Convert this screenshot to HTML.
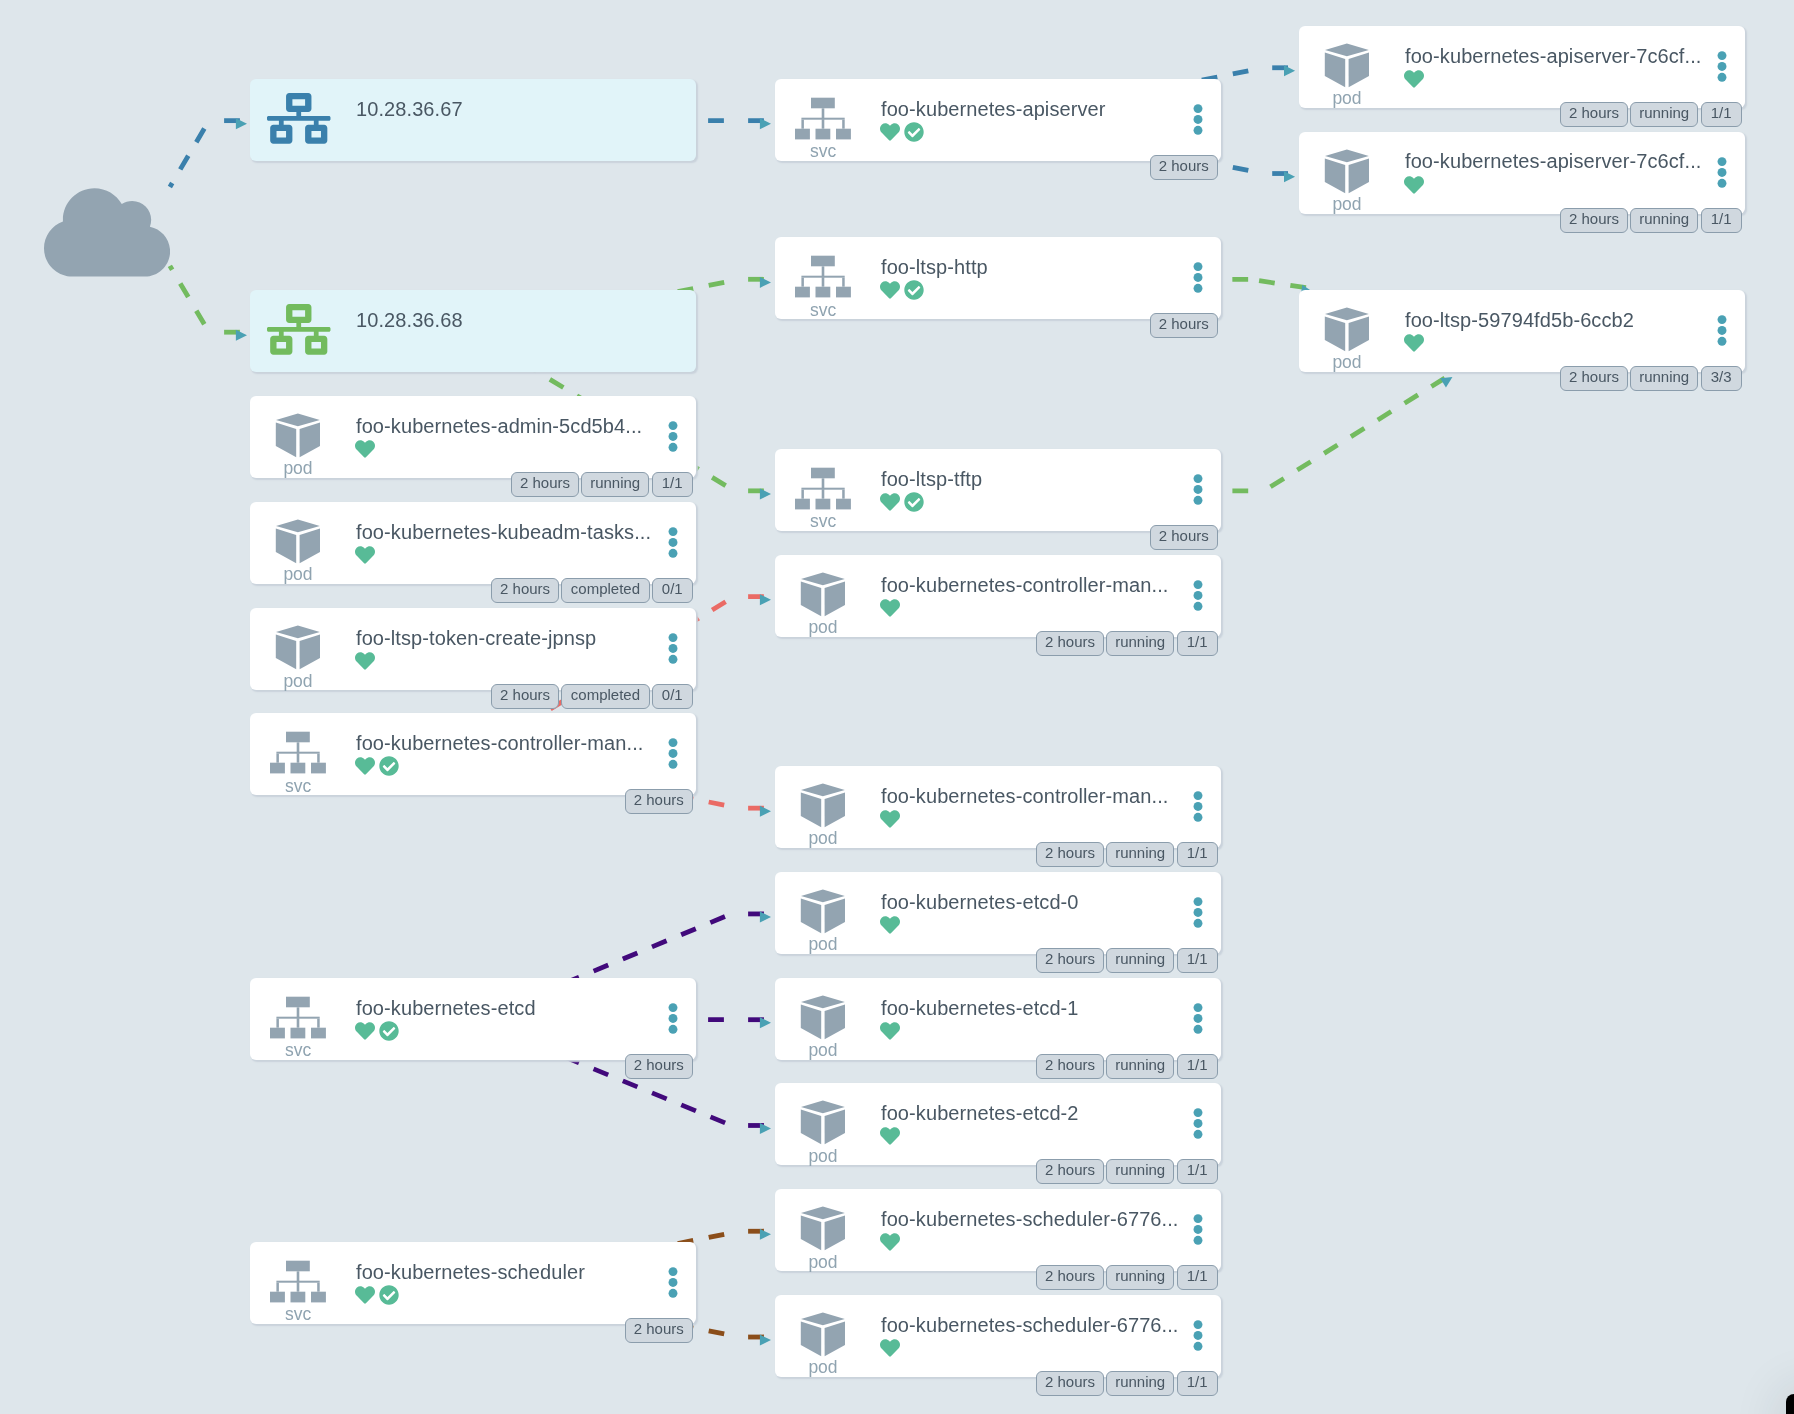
<!DOCTYPE html>
<html><head><meta charset="utf-8"><title>Argo CD network view</title><style>
*{margin:0;padding:0;box-sizing:border-box}
html,body{width:1794px;height:1414px;overflow:hidden}
body{background:#dee6eb;position:relative;-webkit-font-smoothing:antialiased;font-family:"Liberation Sans",sans-serif;color:#495763}
#edges{position:absolute;left:0;top:0}
#edges line{stroke-width:4.8;stroke-dasharray:15.8 15.8;fill:none}
.card{position:absolute;will-change:transform;width:445.6px;height:82px;background:#fff;border-radius:6px;box-shadow:1.4px 1.5px 1.5px #c9d2db}
.card.lb{background:#e1f4f9}
.card .ic{position:absolute;left:0;top:0}
.kind{position:absolute;left:0;width:96px;text-align:center;top:62.6px;font-size:17.5px;line-height:20px;color:#8fa3b0}
.name{position:absolute;left:106px;top:18.5px;font-size:20px;line-height:24px;letter-spacing:0.09px;white-space:nowrap;color:#495763}
.heart{position:absolute;left:105.1px;top:43.0px}
.check{position:absolute;left:128.5px;top:43.3px}
.dots{position:absolute;left:416.6px;top:25.4px;fill:#4aa1b4}
.badges{position:absolute;right:3.0px;top:75.5px;height:25px;display:flex;gap:2.3px}
.badges span{display:block;height:25px;border:1px solid #8b9dac;background:#d0d8df;border-radius:6px;font-size:15px;line-height:20.6px;text-align:center;color:#495763;white-space:nowrap}
#cloud{position:absolute;left:43.8px;top:181.6px}
#corner{position:absolute;left:1786px;top:1394px;width:60px;height:60px;background:#000;border-radius:8px;box-shadow:0 0 50px 4px rgba(30,40,50,0.12)}
</style></head><body>
<svg id="edges" width="1794" height="1414"><line x1="209.00" y1="120.64" x2="169.88" y2="186.94" stroke="#3a80ac" stroke-dashoffset="22.40"/><line x1="255.70" y1="120.64" x2="209.00" y2="120.64" stroke="#3a80ac" stroke-dashoffset="15.80"/><line x1="209.00" y1="332.19" x2="169.88" y2="265.89" stroke="#73bb5f" stroke-dashoffset="22.40"/><line x1="255.70" y1="332.19" x2="209.00" y2="332.19" stroke="#73bb5f" stroke-dashoffset="15.80"/><line x1="739.70" y1="120.64" x2="473.10" y2="120.64" stroke="#3a80ac" stroke-dashoffset="15.80"/><line x1="779.70" y1="120.64" x2="739.70" y2="120.64" stroke="#3a80ac" stroke-dashoffset="15.80"/><line x1="1263.80" y1="67.76" x2="997.70" y2="120.64" stroke="#3a80ac" stroke-dashoffset="15.80"/><line x1="1303.80" y1="67.76" x2="1263.80" y2="67.76" stroke="#3a80ac" stroke-dashoffset="15.80"/><line x1="1263.80" y1="173.53" x2="997.70" y2="120.64" stroke="#3a80ac" stroke-dashoffset="15.80"/><line x1="1303.80" y1="173.53" x2="1263.80" y2="173.53" stroke="#3a80ac" stroke-dashoffset="15.80"/><line x1="739.70" y1="279.30" x2="473.10" y2="332.19" stroke="#73bb5f" stroke-dashoffset="15.80"/><line x1="779.70" y1="279.30" x2="739.70" y2="279.30" stroke="#73bb5f" stroke-dashoffset="15.80"/><line x1="734.36" y1="490.84" x2="473.10" y2="333.02" stroke="#73bb5f" stroke-dashoffset="21.44"/><line x1="779.70" y1="490.84" x2="734.36" y2="490.84" stroke="#73bb5f" stroke-dashoffset="15.80"/><line x1="733.90" y1="596.62" x2="473.10" y2="756.23" stroke="#ea6b65" stroke-dashoffset="21.91"/><line x1="779.70" y1="596.62" x2="733.90" y2="596.62" stroke="#ea6b65" stroke-dashoffset="15.80"/><line x1="739.70" y1="808.16" x2="473.10" y2="755.27" stroke="#ea6b65" stroke-dashoffset="15.80"/><line x1="779.70" y1="808.16" x2="739.70" y2="808.16" stroke="#ea6b65" stroke-dashoffset="15.80"/><line x1="731.30" y1="913.93" x2="473.10" y2="1021.18" stroke="#41097b" stroke-dashoffset="24.72"/><line x1="779.70" y1="913.93" x2="732.50" y2="913.93" stroke="#41097b" stroke-dashoffset="15.80"/><line x1="739.70" y1="1019.70" x2="473.10" y2="1019.70" stroke="#41097b" stroke-dashoffset="15.80"/><line x1="779.70" y1="1019.70" x2="739.70" y2="1019.70" stroke="#41097b" stroke-dashoffset="15.80"/><line x1="731.39" y1="1125.48" x2="473.10" y2="1019.40" stroke="#41097b" stroke-dashoffset="24.81"/><line x1="779.70" y1="1125.48" x2="732.50" y2="1125.48" stroke="#41097b" stroke-dashoffset="15.80"/><line x1="739.70" y1="1231.25" x2="473.10" y2="1284.13" stroke="#8b4e1a" stroke-dashoffset="15.80"/><line x1="779.70" y1="1231.25" x2="739.70" y2="1231.25" stroke="#8b4e1a" stroke-dashoffset="15.80"/><line x1="739.70" y1="1337.02" x2="473.10" y2="1284.13" stroke="#8b4e1a" stroke-dashoffset="15.80"/><line x1="779.70" y1="1337.02" x2="739.70" y2="1337.02" stroke="#8b4e1a" stroke-dashoffset="15.80"/><line x1="1249.60" y1="279.30" x2="997.70" y2="279.30" stroke="#73bb5f" stroke-dashoffset="30.15"/><line x1="1321.60" y1="290.00" x2="1249.60" y2="279.30" stroke="#73bb5f" stroke-dashoffset="15.80"/><line x1="1264.00" y1="490.84" x2="997.70" y2="490.84" stroke="#73bb5f" stroke-dashoffset="15.80"/><line x1="1458.20" y1="369.80" x2="1264.00" y2="490.84" stroke="#73bb5f" stroke-dashoffset="15.80"/><g fill="#4aa1b4"><polygon points="235.90,118.24 235.90,129.24 247.00,123.74"/><polygon points="235.90,329.79 235.90,340.79 247.00,335.29"/><polygon points="759.90,118.24 759.90,129.24 771.00,123.74"/><polygon points="1284.00,65.36 1284.00,76.36 1295.10,70.86"/><polygon points="1284.00,171.13 1284.00,182.13 1295.10,176.63"/><polygon points="759.90,276.90 759.90,287.90 771.00,282.40"/><polygon points="759.90,488.44 759.90,499.44 771.00,493.94"/><polygon points="759.90,594.22 759.90,605.22 771.00,599.72"/><polygon points="759.90,805.76 759.90,816.76 771.00,811.26"/><polygon points="759.90,911.53 759.90,922.53 771.00,917.03"/><polygon points="759.90,1017.30 759.90,1028.30 771.00,1022.80"/><polygon points="759.90,1123.08 759.90,1134.08 771.00,1128.58"/><polygon points="759.90,1228.85 759.90,1239.85 771.00,1234.35"/><polygon points="759.90,1334.62 759.90,1345.62 771.00,1340.12"/><polygon points="1302.37,284.72 1300.75,295.60 1312.54,291.79"/><polygon points="1440.13,378.24 1445.95,387.57 1452.46,377.03"/></g></svg>
<svg id="cloud" width="126.1" height="100.9" viewBox="0 0 640 512"><path fill="#93a4b1" d="M537.6 226.6c4.1-10.7 6.4-22.4 6.4-34.6 0-53-43-96-96-96-19.7 0-38.1 6-53.3 16.2C367 64.2 315.3 32 256 32c-88.4 0-160 71.6-160 160 0 2.7.1 5.4.2 8.1C40.2 219.8 0 273.2 0 336c0 79.5 64.5 144 144 144h368c70.7 0 128-57.3 128-128 0-61.9-44-113.6-102.4-125.4z"/></svg>
<div class="card lb" style="left:250.30px;top:78.64px"><svg class="ic" style="left:17px;top:14.2px" width="63.5" height="50.8" viewBox="0 0 640 512"><path fill="#3a80ac" d="M640 264v-16c0-8.84-7.16-16-16-16H344v-40h72c17.67 0 32-14.33 32-32V32c0-17.67-14.33-32-32-32H224c-17.67 0-32 14.33-32 32v128c0 17.67 14.33 32 32 32h72v40H16c-8.84 0-16 7.16-16 16v16c0 8.84 7.16 16 16 16h104v40H64c-17.67 0-32 14.33-32 32v128c0 17.67 14.33 32 32 32h160c17.67 0 32-14.33 32-32V352c0-17.67-14.33-32-32-32h-56v-40h304v40h-56c-17.67 0-32 14.33-32 32v128c0 17.67 14.33 32 32 32h160c17.67 0 32-14.33 32-32V352c0-17.67-14.33-32-32-32h-56v-40h104c8.84 0 16-7.16 16-16zM256 128V64h128v64H256zm-64 320H96v-64h96v64zm352 0h-96v-64h96v64z"/></svg><div class="name" style="top:18.36px">10.28.36.67</div></div>
<div class="card lb" style="left:250.30px;top:290.19px"><svg class="ic" style="left:17px;top:14.2px" width="63.5" height="50.8" viewBox="0 0 640 512"><path fill="#72bb5e" d="M640 264v-16c0-8.84-7.16-16-16-16H344v-40h72c17.67 0 32-14.33 32-32V32c0-17.67-14.33-32-32-32H224c-17.67 0-32 14.33-32 32v128c0 17.67 14.33 32 32 32h72v40H16c-8.84 0-16 7.16-16 16v16c0 8.84 7.16 16 16 16h104v40H64c-17.67 0-32 14.33-32 32v128c0 17.67 14.33 32 32 32h160c17.67 0 32-14.33 32-32V352c0-17.67-14.33-32-32-32h-56v-40h304v40h-56c-17.67 0-32 14.33-32 32v128c0 17.67 14.33 32 32 32h160c17.67 0 32-14.33 32-32V352c0-17.67-14.33-32-32-32h-56v-40h104c8.84 0 16-7.16 16-16zM256 128V64h128v64H256zm-64 320H96v-64h96v64zm352 0h-96v-64h96v64z"/></svg><div class="name" style="top:17.81px">10.28.36.68</div></div>
<div class="card" style="left:250.30px;top:395.96px"><svg class="ic" width="96" height="82" fill="#93a4b1"><polygon points="47.9,17.6 69.8,24.0 47.9,30.2 26.0,24.0"/><polygon points="25.8,26.6 46.2,33.0 46.2,61.3 25.8,50.0"/><polygon points="70.0,26.6 49.6,33.0 49.6,61.3 70.0,50.0"/></svg><div class="kind" style="top:62.04px">pod</div><div class="name" style="top:18.04px">foo-kubernetes-admin-5cd5b4...</div><svg class="heart" width="20" height="20" viewBox="0 0 512 512"><path fill="#58bb97" d="M462.3 62.6C407.5 15.9 326 24.3 275.7 76.2L256 96.5l-19.7-20.3C186.1 24.3 104.5 15.9 49.7 62.6c-62.8 53.6-66.1 149.8-9.9 207.9l193.5 199.8c12.5 12.9 32.8 12.9 45.3 0l193.5-199.8c56.3-58.1 53-154.3-9.8-207.9z"/></svg><svg class="dots" width="12" height="36"><circle cx="6" cy="4.6" r="4.45"/><circle cx="6" cy="15.45" r="4.45"/><circle cx="6" cy="26.3" r="4.45"/></svg><div class="badges"><span style="width:67.6px">2 hours</span><span style="width:68.2px">running</span><span style="width:41.0px">1/1</span></div></div>
<div class="card" style="left:250.30px;top:501.73px"><svg class="ic" width="96" height="82" fill="#93a4b1"><polygon points="47.9,17.6 69.8,24.0 47.9,30.2 26.0,24.0"/><polygon points="25.8,26.6 46.2,33.0 46.2,61.3 25.8,50.0"/><polygon points="70.0,26.6 49.6,33.0 49.6,61.3 70.0,50.0"/></svg><div class="kind" style="top:62.27px">pod</div><div class="name" style="top:18.27px">foo-kubernetes-kubeadm-tasks...</div><svg class="heart" width="20" height="20" viewBox="0 0 512 512"><path fill="#58bb97" d="M462.3 62.6C407.5 15.9 326 24.3 275.7 76.2L256 96.5l-19.7-20.3C186.1 24.3 104.5 15.9 49.7 62.6c-62.8 53.6-66.1 149.8-9.9 207.9l193.5 199.8c12.5 12.9 32.8 12.9 45.3 0l193.5-199.8c56.3-58.1 53-154.3-9.8-207.9z"/></svg><svg class="dots" width="12" height="36"><circle cx="6" cy="4.6" r="4.45"/><circle cx="6" cy="15.45" r="4.45"/><circle cx="6" cy="26.3" r="4.45"/></svg><div class="badges"><span style="width:67.6px">2 hours</span><span style="width:88.5px">completed</span><span style="width:40.6px">0/1</span></div></div>
<div class="card" style="left:250.30px;top:607.50px"><svg class="ic" width="96" height="82" fill="#93a4b1"><polygon points="47.9,17.6 69.8,24.0 47.9,30.2 26.0,24.0"/><polygon points="25.8,26.6 46.2,33.0 46.2,61.3 25.8,50.0"/><polygon points="70.0,26.6 49.6,33.0 49.6,61.3 70.0,50.0"/></svg><div class="kind" style="top:62.50px">pod</div><div class="name" style="top:17.50px">foo-ltsp-token-create-jpnsp</div><svg class="heart" width="20" height="20" viewBox="0 0 512 512"><path fill="#58bb97" d="M462.3 62.6C407.5 15.9 326 24.3 275.7 76.2L256 96.5l-19.7-20.3C186.1 24.3 104.5 15.9 49.7 62.6c-62.8 53.6-66.1 149.8-9.9 207.9l193.5 199.8c12.5 12.9 32.8 12.9 45.3 0l193.5-199.8c56.3-58.1 53-154.3-9.8-207.9z"/></svg><svg class="dots" width="12" height="36"><circle cx="6" cy="4.6" r="4.45"/><circle cx="6" cy="15.45" r="4.45"/><circle cx="6" cy="26.3" r="4.45"/></svg><div class="badges"><span style="width:67.6px">2 hours</span><span style="width:88.5px">completed</span><span style="width:40.6px">0/1</span></div></div>
<div class="card" style="left:250.30px;top:713.27px"><svg class="ic" width="96" height="82" fill="#93a4b1"><rect x="36.0" y="18.7" width="23.8" height="10.6"/><rect x="46.7" y="29.3" width="2.6" height="11.4"/><rect x="26.4" y="38.7" width="43.3" height="2.0"/><rect x="26.4" y="40.7" width="2.5" height="9.0"/><rect x="46.7" y="40.7" width="2.6" height="9.0"/><rect x="67.2" y="40.7" width="2.5" height="9.0"/><rect x="20.0" y="49.7" width="14.9" height="10.7"/><rect x="40.5" y="49.7" width="14.8" height="10.7"/><rect x="61.0" y="49.7" width="14.9" height="10.7"/></svg><div class="kind" style="top:62.73px">svc</div><div class="name" style="top:17.73px">foo-kubernetes-controller-man...</div><svg class="heart" width="20" height="20" viewBox="0 0 512 512"><path fill="#58bb97" d="M462.3 62.6C407.5 15.9 326 24.3 275.7 76.2L256 96.5l-19.7-20.3C186.1 24.3 104.5 15.9 49.7 62.6c-62.8 53.6-66.1 149.8-9.9 207.9l193.5 199.8c12.5 12.9 32.8 12.9 45.3 0l193.5-199.8c56.3-58.1 53-154.3-9.8-207.9z"/></svg><svg class="check" width="20" height="20" viewBox="0 0 512 512"><path fill="#58bb97" d="M504 256c0 136.967-111.033 248-248 248S8 392.967 8 256 119.033 8 256 8s248 111.033 248 248zM227.314 387.314l184-184c6.248-6.248 6.248-16.379 0-22.627l-22.627-22.627c-6.248-6.249-16.379-6.249-22.628 0L216 308.118l-70.059-70.059c-6.248-6.248-16.379-6.248-22.628 0l-22.627 22.627c-6.248 6.248-6.248 16.379 0 22.627l104 104c6.249 6.249 16.379 6.249 22.628.001z"/></svg><svg class="dots" width="12" height="36"><circle cx="6" cy="4.6" r="4.45"/><circle cx="6" cy="15.45" r="4.45"/><circle cx="6" cy="26.3" r="4.45"/></svg><div class="badges"><span style="width:67.6px">2 hours</span></div></div>
<div class="card" style="left:250.30px;top:977.70px"><svg class="ic" width="96" height="82" fill="#93a4b1"><rect x="36.0" y="18.7" width="23.8" height="10.6"/><rect x="46.7" y="29.3" width="2.6" height="11.4"/><rect x="26.4" y="38.7" width="43.3" height="2.0"/><rect x="26.4" y="40.7" width="2.5" height="9.0"/><rect x="46.7" y="40.7" width="2.6" height="9.0"/><rect x="67.2" y="40.7" width="2.5" height="9.0"/><rect x="20.0" y="49.7" width="14.9" height="10.7"/><rect x="40.5" y="49.7" width="14.8" height="10.7"/><rect x="61.0" y="49.7" width="14.9" height="10.7"/></svg><div class="kind" style="top:62.30px">svc</div><div class="name" style="top:18.30px">foo-kubernetes-etcd</div><svg class="heart" width="20" height="20" viewBox="0 0 512 512"><path fill="#58bb97" d="M462.3 62.6C407.5 15.9 326 24.3 275.7 76.2L256 96.5l-19.7-20.3C186.1 24.3 104.5 15.9 49.7 62.6c-62.8 53.6-66.1 149.8-9.9 207.9l193.5 199.8c12.5 12.9 32.8 12.9 45.3 0l193.5-199.8c56.3-58.1 53-154.3-9.8-207.9z"/></svg><svg class="check" width="20" height="20" viewBox="0 0 512 512"><path fill="#58bb97" d="M504 256c0 136.967-111.033 248-248 248S8 392.967 8 256 119.033 8 256 8s248 111.033 248 248zM227.314 387.314l184-184c6.248-6.248 6.248-16.379 0-22.627l-22.627-22.627c-6.248-6.249-16.379-6.249-22.628 0L216 308.118l-70.059-70.059c-6.248-6.248-16.379-6.248-22.628 0l-22.627 22.627c-6.248 6.248-6.248 16.379 0 22.627l104 104c6.249 6.249 16.379 6.249 22.628.001z"/></svg><svg class="dots" width="12" height="36"><circle cx="6" cy="4.6" r="4.45"/><circle cx="6" cy="15.45" r="4.45"/><circle cx="6" cy="26.3" r="4.45"/></svg><div class="badges"><span style="width:67.6px">2 hours</span></div></div>
<div class="card" style="left:250.30px;top:1242.13px"><svg class="ic" width="96" height="82" fill="#93a4b1"><rect x="36.0" y="18.7" width="23.8" height="10.6"/><rect x="46.7" y="29.3" width="2.6" height="11.4"/><rect x="26.4" y="38.7" width="43.3" height="2.0"/><rect x="26.4" y="40.7" width="2.5" height="9.0"/><rect x="46.7" y="40.7" width="2.6" height="9.0"/><rect x="67.2" y="40.7" width="2.5" height="9.0"/><rect x="20.0" y="49.7" width="14.9" height="10.7"/><rect x="40.5" y="49.7" width="14.8" height="10.7"/><rect x="61.0" y="49.7" width="14.9" height="10.7"/></svg><div class="kind" style="top:61.87px">svc</div><div class="name" style="top:17.87px">foo-kubernetes-scheduler</div><svg class="heart" width="20" height="20" viewBox="0 0 512 512"><path fill="#58bb97" d="M462.3 62.6C407.5 15.9 326 24.3 275.7 76.2L256 96.5l-19.7-20.3C186.1 24.3 104.5 15.9 49.7 62.6c-62.8 53.6-66.1 149.8-9.9 207.9l193.5 199.8c12.5 12.9 32.8 12.9 45.3 0l193.5-199.8c56.3-58.1 53-154.3-9.8-207.9z"/></svg><svg class="check" width="20" height="20" viewBox="0 0 512 512"><path fill="#58bb97" d="M504 256c0 136.967-111.033 248-248 248S8 392.967 8 256 119.033 8 256 8s248 111.033 248 248zM227.314 387.314l184-184c6.248-6.248 6.248-16.379 0-22.627l-22.627-22.627c-6.248-6.249-16.379-6.249-22.628 0L216 308.118l-70.059-70.059c-6.248-6.248-16.379-6.248-22.628 0l-22.627 22.627c-6.248 6.248-6.248 16.379 0 22.627l104 104c6.249 6.249 16.379 6.249 22.628.001z"/></svg><svg class="dots" width="12" height="36"><circle cx="6" cy="4.6" r="4.45"/><circle cx="6" cy="15.45" r="4.45"/><circle cx="6" cy="26.3" r="4.45"/></svg><div class="badges"><span style="width:67.6px">2 hours</span></div></div>
<div class="card" style="left:774.90px;top:78.64px"><svg class="ic" width="96" height="82" fill="#93a4b1"><rect x="36.0" y="18.7" width="23.8" height="10.6"/><rect x="46.7" y="29.3" width="2.6" height="11.4"/><rect x="26.4" y="38.7" width="43.3" height="2.0"/><rect x="26.4" y="40.7" width="2.5" height="9.0"/><rect x="46.7" y="40.7" width="2.6" height="9.0"/><rect x="67.2" y="40.7" width="2.5" height="9.0"/><rect x="20.0" y="49.7" width="14.9" height="10.7"/><rect x="40.5" y="49.7" width="14.8" height="10.7"/><rect x="61.0" y="49.7" width="14.9" height="10.7"/></svg><div class="kind" style="top:62.36px">svc</div><div class="name" style="top:18.36px">foo-kubernetes-apiserver</div><svg class="heart" width="20" height="20" viewBox="0 0 512 512"><path fill="#58bb97" d="M462.3 62.6C407.5 15.9 326 24.3 275.7 76.2L256 96.5l-19.7-20.3C186.1 24.3 104.5 15.9 49.7 62.6c-62.8 53.6-66.1 149.8-9.9 207.9l193.5 199.8c12.5 12.9 32.8 12.9 45.3 0l193.5-199.8c56.3-58.1 53-154.3-9.8-207.9z"/></svg><svg class="check" width="20" height="20" viewBox="0 0 512 512"><path fill="#58bb97" d="M504 256c0 136.967-111.033 248-248 248S8 392.967 8 256 119.033 8 256 8s248 111.033 248 248zM227.314 387.314l184-184c6.248-6.248 6.248-16.379 0-22.627l-22.627-22.627c-6.248-6.249-16.379-6.249-22.628 0L216 308.118l-70.059-70.059c-6.248-6.248-16.379-6.248-22.628 0l-22.627 22.627c-6.248 6.248-6.248 16.379 0 22.627l104 104c6.249 6.249 16.379 6.249 22.628.001z"/></svg><svg class="dots" width="12" height="36"><circle cx="6" cy="4.6" r="4.45"/><circle cx="6" cy="15.45" r="4.45"/><circle cx="6" cy="26.3" r="4.45"/></svg><div class="badges"><span style="width:67.6px">2 hours</span></div></div>
<div class="card" style="left:774.90px;top:237.30px"><svg class="ic" width="96" height="82" fill="#93a4b1"><rect x="36.0" y="18.7" width="23.8" height="10.6"/><rect x="46.7" y="29.3" width="2.6" height="11.4"/><rect x="26.4" y="38.7" width="43.3" height="2.0"/><rect x="26.4" y="40.7" width="2.5" height="9.0"/><rect x="46.7" y="40.7" width="2.6" height="9.0"/><rect x="67.2" y="40.7" width="2.5" height="9.0"/><rect x="20.0" y="49.7" width="14.9" height="10.7"/><rect x="40.5" y="49.7" width="14.8" height="10.7"/><rect x="61.0" y="49.7" width="14.9" height="10.7"/></svg><div class="kind" style="top:62.70px">svc</div><div class="name" style="top:17.70px">foo-ltsp-http</div><svg class="heart" width="20" height="20" viewBox="0 0 512 512"><path fill="#58bb97" d="M462.3 62.6C407.5 15.9 326 24.3 275.7 76.2L256 96.5l-19.7-20.3C186.1 24.3 104.5 15.9 49.7 62.6c-62.8 53.6-66.1 149.8-9.9 207.9l193.5 199.8c12.5 12.9 32.8 12.9 45.3 0l193.5-199.8c56.3-58.1 53-154.3-9.8-207.9z"/></svg><svg class="check" width="20" height="20" viewBox="0 0 512 512"><path fill="#58bb97" d="M504 256c0 136.967-111.033 248-248 248S8 392.967 8 256 119.033 8 256 8s248 111.033 248 248zM227.314 387.314l184-184c6.248-6.248 6.248-16.379 0-22.627l-22.627-22.627c-6.248-6.249-16.379-6.249-22.628 0L216 308.118l-70.059-70.059c-6.248-6.248-16.379-6.248-22.628 0l-22.627 22.627c-6.248 6.248-6.248 16.379 0 22.627l104 104c6.249 6.249 16.379 6.249 22.628.001z"/></svg><svg class="dots" width="12" height="36"><circle cx="6" cy="4.6" r="4.45"/><circle cx="6" cy="15.45" r="4.45"/><circle cx="6" cy="26.3" r="4.45"/></svg><div class="badges"><span style="width:67.6px">2 hours</span></div></div>
<div class="card" style="left:774.90px;top:448.84px"><svg class="ic" width="96" height="82" fill="#93a4b1"><rect x="36.0" y="18.7" width="23.8" height="10.6"/><rect x="46.7" y="29.3" width="2.6" height="11.4"/><rect x="26.4" y="38.7" width="43.3" height="2.0"/><rect x="26.4" y="40.7" width="2.5" height="9.0"/><rect x="46.7" y="40.7" width="2.6" height="9.0"/><rect x="67.2" y="40.7" width="2.5" height="9.0"/><rect x="20.0" y="49.7" width="14.9" height="10.7"/><rect x="40.5" y="49.7" width="14.8" height="10.7"/><rect x="61.0" y="49.7" width="14.9" height="10.7"/></svg><div class="kind" style="top:62.16px">svc</div><div class="name" style="top:18.16px">foo-ltsp-tftp</div><svg class="heart" width="20" height="20" viewBox="0 0 512 512"><path fill="#58bb97" d="M462.3 62.6C407.5 15.9 326 24.3 275.7 76.2L256 96.5l-19.7-20.3C186.1 24.3 104.5 15.9 49.7 62.6c-62.8 53.6-66.1 149.8-9.9 207.9l193.5 199.8c12.5 12.9 32.8 12.9 45.3 0l193.5-199.8c56.3-58.1 53-154.3-9.8-207.9z"/></svg><svg class="check" width="20" height="20" viewBox="0 0 512 512"><path fill="#58bb97" d="M504 256c0 136.967-111.033 248-248 248S8 392.967 8 256 119.033 8 256 8s248 111.033 248 248zM227.314 387.314l184-184c6.248-6.248 6.248-16.379 0-22.627l-22.627-22.627c-6.248-6.249-16.379-6.249-22.628 0L216 308.118l-70.059-70.059c-6.248-6.248-16.379-6.248-22.628 0l-22.627 22.627c-6.248 6.248-6.248 16.379 0 22.627l104 104c6.249 6.249 16.379 6.249 22.628.001z"/></svg><svg class="dots" width="12" height="36"><circle cx="6" cy="4.6" r="4.45"/><circle cx="6" cy="15.45" r="4.45"/><circle cx="6" cy="26.3" r="4.45"/></svg><div class="badges"><span style="width:67.6px">2 hours</span></div></div>
<div class="card" style="left:774.90px;top:554.62px"><svg class="ic" width="96" height="82" fill="#93a4b1"><polygon points="47.9,17.6 69.8,24.0 47.9,30.2 26.0,24.0"/><polygon points="25.8,26.6 46.2,33.0 46.2,61.3 25.8,50.0"/><polygon points="70.0,26.6 49.6,33.0 49.6,61.3 70.0,50.0"/></svg><div class="kind" style="top:62.38px">pod</div><div class="name" style="top:18.38px">foo-kubernetes-controller-man...</div><svg class="heart" width="20" height="20" viewBox="0 0 512 512"><path fill="#58bb97" d="M462.3 62.6C407.5 15.9 326 24.3 275.7 76.2L256 96.5l-19.7-20.3C186.1 24.3 104.5 15.9 49.7 62.6c-62.8 53.6-66.1 149.8-9.9 207.9l193.5 199.8c12.5 12.9 32.8 12.9 45.3 0l193.5-199.8c56.3-58.1 53-154.3-9.8-207.9z"/></svg><svg class="dots" width="12" height="36"><circle cx="6" cy="4.6" r="4.45"/><circle cx="6" cy="15.45" r="4.45"/><circle cx="6" cy="26.3" r="4.45"/></svg><div class="badges"><span style="width:67.6px">2 hours</span><span style="width:68.2px">running</span><span style="width:41.0px">1/1</span></div></div>
<div class="card" style="left:774.90px;top:766.16px"><svg class="ic" width="96" height="82" fill="#93a4b1"><polygon points="47.9,17.6 69.8,24.0 47.9,30.2 26.0,24.0"/><polygon points="25.8,26.6 46.2,33.0 46.2,61.3 25.8,50.0"/><polygon points="70.0,26.6 49.6,33.0 49.6,61.3 70.0,50.0"/></svg><div class="kind" style="top:61.84px">pod</div><div class="name" style="top:17.84px">foo-kubernetes-controller-man...</div><svg class="heart" width="20" height="20" viewBox="0 0 512 512"><path fill="#58bb97" d="M462.3 62.6C407.5 15.9 326 24.3 275.7 76.2L256 96.5l-19.7-20.3C186.1 24.3 104.5 15.9 49.7 62.6c-62.8 53.6-66.1 149.8-9.9 207.9l193.5 199.8c12.5 12.9 32.8 12.9 45.3 0l193.5-199.8c56.3-58.1 53-154.3-9.8-207.9z"/></svg><svg class="dots" width="12" height="36"><circle cx="6" cy="4.6" r="4.45"/><circle cx="6" cy="15.45" r="4.45"/><circle cx="6" cy="26.3" r="4.45"/></svg><div class="badges"><span style="width:67.6px">2 hours</span><span style="width:68.2px">running</span><span style="width:41.0px">1/1</span></div></div>
<div class="card" style="left:774.90px;top:871.93px"><svg class="ic" width="96" height="82" fill="#93a4b1"><polygon points="47.9,17.6 69.8,24.0 47.9,30.2 26.0,24.0"/><polygon points="25.8,26.6 46.2,33.0 46.2,61.3 25.8,50.0"/><polygon points="70.0,26.6 49.6,33.0 49.6,61.3 70.0,50.0"/></svg><div class="kind" style="top:62.07px">pod</div><div class="name" style="top:18.07px">foo-kubernetes-etcd-0</div><svg class="heart" width="20" height="20" viewBox="0 0 512 512"><path fill="#58bb97" d="M462.3 62.6C407.5 15.9 326 24.3 275.7 76.2L256 96.5l-19.7-20.3C186.1 24.3 104.5 15.9 49.7 62.6c-62.8 53.6-66.1 149.8-9.9 207.9l193.5 199.8c12.5 12.9 32.8 12.9 45.3 0l193.5-199.8c56.3-58.1 53-154.3-9.8-207.9z"/></svg><svg class="dots" width="12" height="36"><circle cx="6" cy="4.6" r="4.45"/><circle cx="6" cy="15.45" r="4.45"/><circle cx="6" cy="26.3" r="4.45"/></svg><div class="badges"><span style="width:67.6px">2 hours</span><span style="width:68.2px">running</span><span style="width:41.0px">1/1</span></div></div>
<div class="card" style="left:774.90px;top:977.70px"><svg class="ic" width="96" height="82" fill="#93a4b1"><polygon points="47.9,17.6 69.8,24.0 47.9,30.2 26.0,24.0"/><polygon points="25.8,26.6 46.2,33.0 46.2,61.3 25.8,50.0"/><polygon points="70.0,26.6 49.6,33.0 49.6,61.3 70.0,50.0"/></svg><div class="kind" style="top:62.30px">pod</div><div class="name" style="top:18.30px">foo-kubernetes-etcd-1</div><svg class="heart" width="20" height="20" viewBox="0 0 512 512"><path fill="#58bb97" d="M462.3 62.6C407.5 15.9 326 24.3 275.7 76.2L256 96.5l-19.7-20.3C186.1 24.3 104.5 15.9 49.7 62.6c-62.8 53.6-66.1 149.8-9.9 207.9l193.5 199.8c12.5 12.9 32.8 12.9 45.3 0l193.5-199.8c56.3-58.1 53-154.3-9.8-207.9z"/></svg><svg class="dots" width="12" height="36"><circle cx="6" cy="4.6" r="4.45"/><circle cx="6" cy="15.45" r="4.45"/><circle cx="6" cy="26.3" r="4.45"/></svg><div class="badges"><span style="width:67.6px">2 hours</span><span style="width:68.2px">running</span><span style="width:41.0px">1/1</span></div></div>
<div class="card" style="left:774.90px;top:1083.48px"><svg class="ic" width="96" height="82" fill="#93a4b1"><polygon points="47.9,17.6 69.8,24.0 47.9,30.2 26.0,24.0"/><polygon points="25.8,26.6 46.2,33.0 46.2,61.3 25.8,50.0"/><polygon points="70.0,26.6 49.6,33.0 49.6,61.3 70.0,50.0"/></svg><div class="kind" style="top:62.52px">pod</div><div class="name" style="top:17.52px">foo-kubernetes-etcd-2</div><svg class="heart" width="20" height="20" viewBox="0 0 512 512"><path fill="#58bb97" d="M462.3 62.6C407.5 15.9 326 24.3 275.7 76.2L256 96.5l-19.7-20.3C186.1 24.3 104.5 15.9 49.7 62.6c-62.8 53.6-66.1 149.8-9.9 207.9l193.5 199.8c12.5 12.9 32.8 12.9 45.3 0l193.5-199.8c56.3-58.1 53-154.3-9.8-207.9z"/></svg><svg class="dots" width="12" height="36"><circle cx="6" cy="4.6" r="4.45"/><circle cx="6" cy="15.45" r="4.45"/><circle cx="6" cy="26.3" r="4.45"/></svg><div class="badges"><span style="width:67.6px">2 hours</span><span style="width:68.2px">running</span><span style="width:41.0px">1/1</span></div></div>
<div class="card" style="left:774.90px;top:1189.25px"><svg class="ic" width="96" height="82" fill="#93a4b1"><polygon points="47.9,17.6 69.8,24.0 47.9,30.2 26.0,24.0"/><polygon points="25.8,26.6 46.2,33.0 46.2,61.3 25.8,50.0"/><polygon points="70.0,26.6 49.6,33.0 49.6,61.3 70.0,50.0"/></svg><div class="kind" style="top:62.75px">pod</div><div class="name" style="top:17.75px">foo-kubernetes-scheduler-6776...</div><svg class="heart" width="20" height="20" viewBox="0 0 512 512"><path fill="#58bb97" d="M462.3 62.6C407.5 15.9 326 24.3 275.7 76.2L256 96.5l-19.7-20.3C186.1 24.3 104.5 15.9 49.7 62.6c-62.8 53.6-66.1 149.8-9.9 207.9l193.5 199.8c12.5 12.9 32.8 12.9 45.3 0l193.5-199.8c56.3-58.1 53-154.3-9.8-207.9z"/></svg><svg class="dots" width="12" height="36"><circle cx="6" cy="4.6" r="4.45"/><circle cx="6" cy="15.45" r="4.45"/><circle cx="6" cy="26.3" r="4.45"/></svg><div class="badges"><span style="width:67.6px">2 hours</span><span style="width:68.2px">running</span><span style="width:41.0px">1/1</span></div></div>
<div class="card" style="left:774.90px;top:1295.02px"><svg class="ic" width="96" height="82" fill="#93a4b1"><polygon points="47.9,17.6 69.8,24.0 47.9,30.2 26.0,24.0"/><polygon points="25.8,26.6 46.2,33.0 46.2,61.3 25.8,50.0"/><polygon points="70.0,26.6 49.6,33.0 49.6,61.3 70.0,50.0"/></svg><div class="kind" style="top:61.98px">pod</div><div class="name" style="top:17.98px">foo-kubernetes-scheduler-6776...</div><svg class="heart" width="20" height="20" viewBox="0 0 512 512"><path fill="#58bb97" d="M462.3 62.6C407.5 15.9 326 24.3 275.7 76.2L256 96.5l-19.7-20.3C186.1 24.3 104.5 15.9 49.7 62.6c-62.8 53.6-66.1 149.8-9.9 207.9l193.5 199.8c12.5 12.9 32.8 12.9 45.3 0l193.5-199.8c56.3-58.1 53-154.3-9.8-207.9z"/></svg><svg class="dots" width="12" height="36"><circle cx="6" cy="4.6" r="4.45"/><circle cx="6" cy="15.45" r="4.45"/><circle cx="6" cy="26.3" r="4.45"/></svg><div class="badges"><span style="width:67.6px">2 hours</span><span style="width:68.2px">running</span><span style="width:41.0px">1/1</span></div></div>
<div class="card" style="left:1299.00px;top:25.76px"><svg class="ic" width="96" height="82" fill="#93a4b1"><polygon points="47.9,17.6 69.8,24.0 47.9,30.2 26.0,24.0"/><polygon points="25.8,26.6 46.2,33.0 46.2,61.3 25.8,50.0"/><polygon points="70.0,26.6 49.6,33.0 49.6,61.3 70.0,50.0"/></svg><div class="kind" style="top:62.24px">pod</div><div class="name" style="top:18.24px">foo-kubernetes-apiserver-7c6cf...</div><svg class="heart" width="20" height="20" viewBox="0 0 512 512"><path fill="#58bb97" d="M462.3 62.6C407.5 15.9 326 24.3 275.7 76.2L256 96.5l-19.7-20.3C186.1 24.3 104.5 15.9 49.7 62.6c-62.8 53.6-66.1 149.8-9.9 207.9l193.5 199.8c12.5 12.9 32.8 12.9 45.3 0l193.5-199.8c56.3-58.1 53-154.3-9.8-207.9z"/></svg><svg class="dots" width="12" height="36"><circle cx="6" cy="4.6" r="4.45"/><circle cx="6" cy="15.45" r="4.45"/><circle cx="6" cy="26.3" r="4.45"/></svg><div class="badges"><span style="width:67.6px">2 hours</span><span style="width:68.2px">running</span><span style="width:41.0px">1/1</span></div></div>
<div class="card" style="left:1299.00px;top:131.53px"><svg class="ic" width="96" height="82" fill="#93a4b1"><polygon points="47.9,17.6 69.8,24.0 47.9,30.2 26.0,24.0"/><polygon points="25.8,26.6 46.2,33.0 46.2,61.3 25.8,50.0"/><polygon points="70.0,26.6 49.6,33.0 49.6,61.3 70.0,50.0"/></svg><div class="kind" style="top:62.47px">pod</div><div class="name" style="top:17.47px">foo-kubernetes-apiserver-7c6cf...</div><svg class="heart" width="20" height="20" viewBox="0 0 512 512"><path fill="#58bb97" d="M462.3 62.6C407.5 15.9 326 24.3 275.7 76.2L256 96.5l-19.7-20.3C186.1 24.3 104.5 15.9 49.7 62.6c-62.8 53.6-66.1 149.8-9.9 207.9l193.5 199.8c12.5 12.9 32.8 12.9 45.3 0l193.5-199.8c56.3-58.1 53-154.3-9.8-207.9z"/></svg><svg class="dots" width="12" height="36"><circle cx="6" cy="4.6" r="4.45"/><circle cx="6" cy="15.45" r="4.45"/><circle cx="6" cy="26.3" r="4.45"/></svg><div class="badges"><span style="width:67.6px">2 hours</span><span style="width:68.2px">running</span><span style="width:41.0px">1/1</span></div></div>
<div class="card" style="left:1299.00px;top:290.19px"><svg class="ic" width="96" height="82" fill="#93a4b1"><polygon points="47.9,17.6 69.8,24.0 47.9,30.2 26.0,24.0"/><polygon points="25.8,26.6 46.2,33.0 46.2,61.3 25.8,50.0"/><polygon points="70.0,26.6 49.6,33.0 49.6,61.3 70.0,50.0"/></svg><div class="kind" style="top:61.81px">pod</div><div class="name" style="top:17.81px">foo-ltsp-59794fd5b-6ccb2</div><svg class="heart" width="20" height="20" viewBox="0 0 512 512"><path fill="#58bb97" d="M462.3 62.6C407.5 15.9 326 24.3 275.7 76.2L256 96.5l-19.7-20.3C186.1 24.3 104.5 15.9 49.7 62.6c-62.8 53.6-66.1 149.8-9.9 207.9l193.5 199.8c12.5 12.9 32.8 12.9 45.3 0l193.5-199.8c56.3-58.1 53-154.3-9.8-207.9z"/></svg><svg class="dots" width="12" height="36"><circle cx="6" cy="4.6" r="4.45"/><circle cx="6" cy="15.45" r="4.45"/><circle cx="6" cy="26.3" r="4.45"/></svg><div class="badges"><span style="width:67.6px">2 hours</span><span style="width:68.2px">running</span><span style="width:41.0px">3/3</span></div></div>
<div id="corner"></div>
</body></html>
